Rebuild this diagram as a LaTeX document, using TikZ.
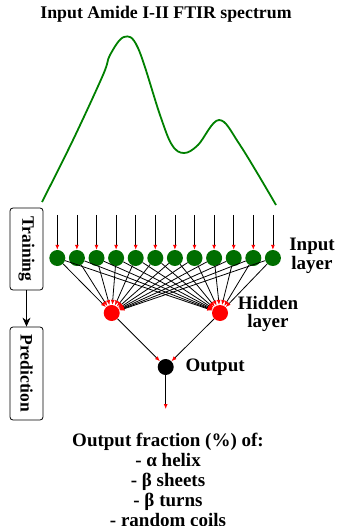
\documentclass[tikz,border=0pt]{standalone}
\usepackage{fontspec}
\setmainfont{Liberation Serif}
\usetikzlibrary{arrows.meta}
\definecolor{specgreen}{RGB}{0,128,0}
\definecolor{nodegreen}{RGB}{0,110,0}
\tikzset{
  neuron/.style={circle, inner sep=0pt, minimum size=16pt},
  stagebox/.style={draw, rounded corners=3pt, thick, minimum width=33pt, font=\fontsize{17.5}{18}\selectfont\bfseries},
  lbl/.style={font=\fontsize{19}{18.5}\selectfont\bfseries, align=center},
  redtip/.style={-{Latex[red,length=5pt,width=4pt]}}
}
\begin{document}
\begin{tikzpicture}[x=1pt, y=-1pt]
  \useasboundingbox (0,0) rectangle (337,526);
  \node[font=\fontsize{17.8}{18}\selectfont\bfseries] (title) at (166,14) {Input Amide I-II FTIR spectrum};
  % spectrum
  \draw[specgreen, line width=1.8pt] plot[smooth, tension=0.6] coordinates {(42,202) (73,140) (103,75) (110,55) (124,37) (138,48) (160,115) (172,145) (184,153) (198,145) (219,120) (240,145) (276,205)};
  % training / prediction
  \node[stagebox, minimum height=82pt] (train) at (26.5,249) {\rotatebox{-90}{Training}};
  \node[stagebox, minimum height=93pt] (pred) at (26.5,373.5) {\rotatebox{-90}{Prediction}};
  \draw[-{Stealth[length=9pt,width=8pt]}, thick] (train) -- (pred);
  % layers
  \foreach \i in {1,...,12}{
    \node[neuron, fill=nodegreen] (in\i) at ({57.3+19.6*(\i-1)},258) {};
    \coordinate (top\i) at ({57.3+19.6*(\i-1)},215);
  }
  \node[neuron, fill=red] (hid1) at (111.7,313) {};
  \node[neuron, fill=red] (hid2) at (220,313) {};
  \node[neuron, fill=black] (out) at (165.7,367) {};
  \coordinate (res) at (165.7,409);
  \foreach \i in {1,...,12}{
    \draw[redtip, thick] (top\i) -- (in\i);
    \foreach \h in {1,2}
      \draw[redtip, thick] (in\i) -- (hid\h);
  }
  \draw[redtip, thick] (hid1) -- (out);
  \draw[redtip, thick] (hid2) -- (out);
  \draw[redtip, thick] (out) -- (res);
  % labels
  \node[lbl] (inlbl) at (312,256) {Input\\layer};
  \node[lbl] (hidlbl) at (268,314) {Hidden\\layer};
  \node[lbl, anchor=west] (outlbl) at (182,367) {Output};
  \node[lbl, font=\fontsize{19}{20}\selectfont\bfseries] (result) at (168,480) {Output fraction (\%) of:\\- α helix\\- β sheets\\- β turns\\- random coils};
\end{tikzpicture}
\end{document}
